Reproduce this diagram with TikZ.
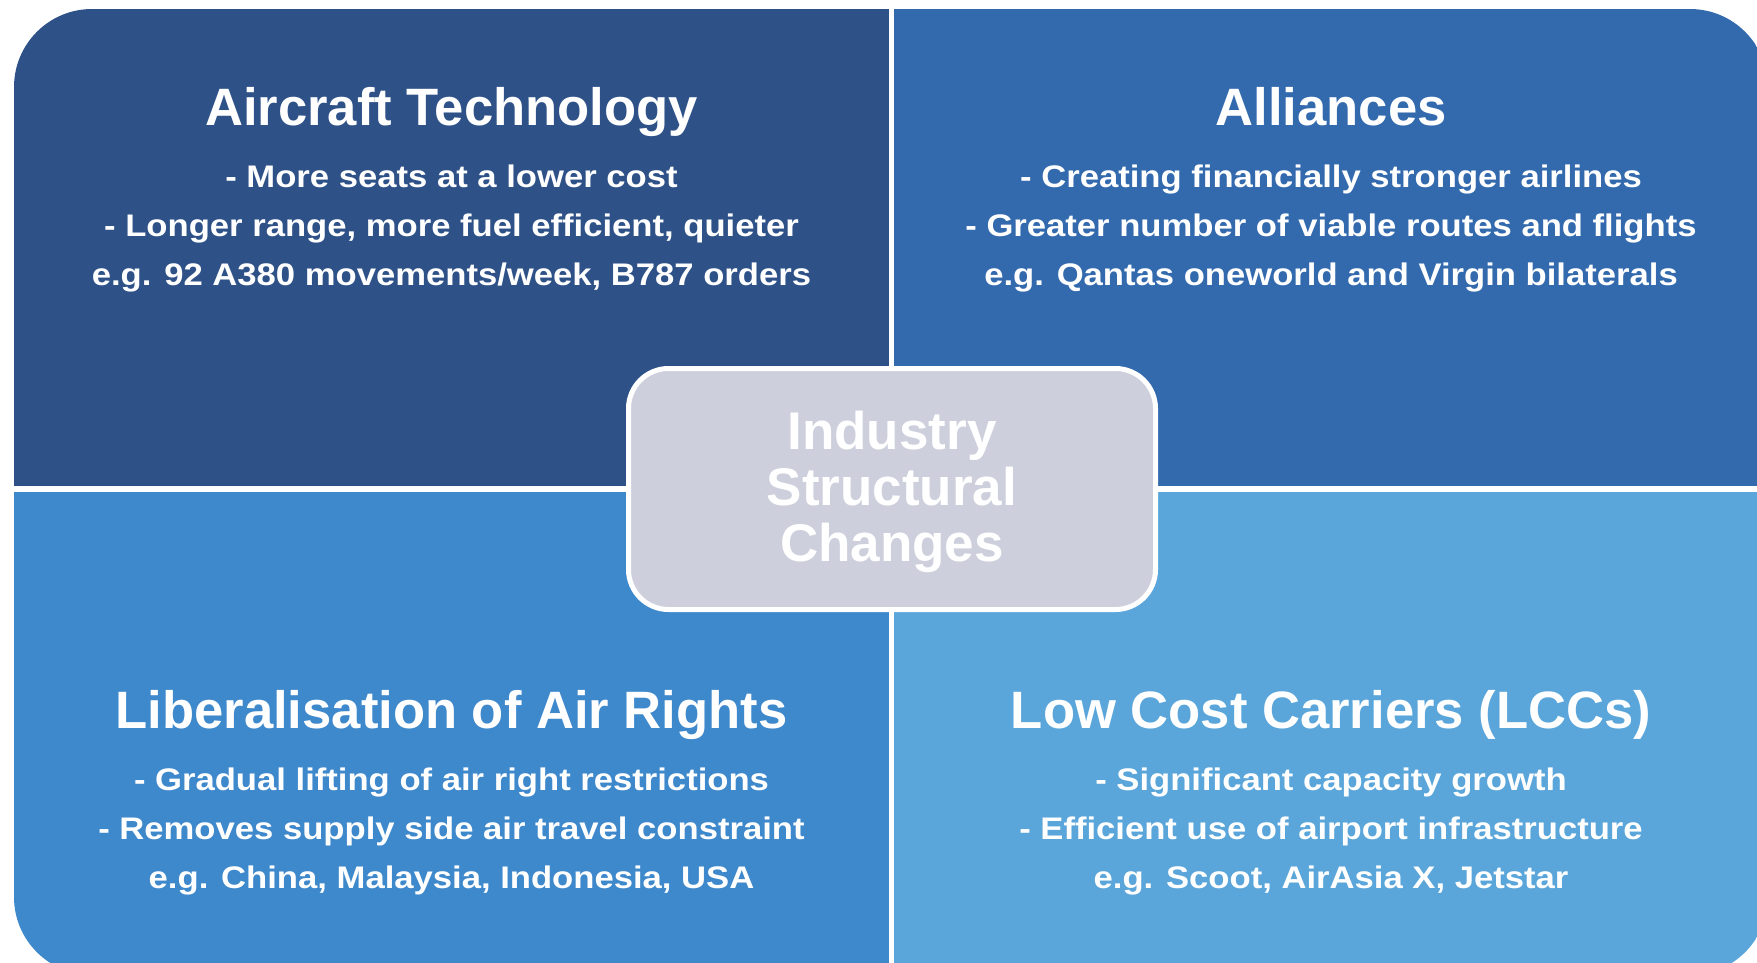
\documentclass[tikz,border=0pt]{standalone}
\usepackage{fontspec}
\setmainfont{Liberation Sans}
\newfontfamily\bodyfont[FakeStretch=1.11]{Liberation Sans}

\definecolor{qTL}{HTML}{2E5288}
\definecolor{qTR}{HTML}{336AAE}
\definecolor{qBL}{HTML}{3E88CC}
\definecolor{qBR}{HTML}{5AA6DA}
\definecolor{hubfill}{HTML}{CDD0DC}

\tikzset{
  ttl/.style={anchor=base, inner sep=0pt, text=white,
    font=\fontsize{52.6}{60}\selectfont\bfseries},
  txt/.style={anchor=base, inner sep=0pt, text=white,
    font=\bodyfont\fontsize{31.2}{40}\selectfont\bfseries},
  hub/.style={draw=white, line width=5pt, fill=hubfill, rounded corners=40pt,
    minimum width=527pt, minimum height=241pt, align=center, text=white,
    inner sep=0pt, font=\fontsize{53}{56}\selectfont\bfseries},
}

\begin{document}
\begin{tikzpicture}[x=1pt,y=-1pt]
\useasboundingbox (0,0) rectangle (1757,962);

% four quadrants sharing one rounded outline, split by white gaps
\begin{scope}
  \clip[rounded corners=78pt] (14,9) rectangle (1768,975);
  \fill[qTL] (14,9) rectangle (891.5,489);
  \fill[qTR] (891.5,9) rectangle (1768,489);
  \fill[qBL] (14,489) rectangle (891.5,975);
  \fill[qBR] (891.5,489) rectangle (1768,975);
  \draw[white, line width=5.5pt] (891.5,0) -- (891.5,980);
  \draw[white, line width=6pt] (0,489) -- (1780,489);
\end{scope}

% top left
\node[ttl] (tlT) at (451.5,125) {Aircraft Technology};
\node[txt] (tl1) at (451.5,187) {- More seats at a lower cost};
\node[txt] (tl2) at (451.5,236) {- Longer range, more fuel efficient, quieter};
\node[txt] (tl3) at (451.5,285) {e.g. 92 A380 movements/week, B787 orders};

% top right
\node[ttl] (trT) at (1331,125) {Alliances};
\node[txt] (tr1) at (1331,187) {- Creating financially stronger airlines};
\node[txt] (tr2) at (1331,236) {- Greater number of viable routes and flights};
\node[txt] (tr3) at (1331,285) {e.g. Qantas oneworld and Virgin bilaterals};

% bottom left
\node[ttl] (blT) at (451.5,728) {Liberalisation of Air Rights};
\node[txt] (bl1) at (451.5,790) {- Gradual lifting of air right restrictions};
\node[txt] (bl2) at (451.5,839) {- Removes supply side air travel constraint};
\node[txt] (bl3) at (451.5,888) {e.g. China, Malaysia, Indonesia, USA};

% bottom right
\node[ttl] (brT) at (1331,728) {Low Cost Carriers (LCCs)};
\node[txt] (br1) at (1331,790) {- Significant capacity growth};
\node[txt] (br2) at (1331,839) {- Efficient use of airport infrastructure};
\node[txt] (br3) at (1331,888) {e.g. Scoot, AirAsia X, Jetstar};

% central hub (the strut on the first line nudges the text block down)
\node[hub] (hub) at (892,489) {\rule{0pt}{44pt}Industry\\Structural\\Changes};
\end{tikzpicture}
\end{document}
